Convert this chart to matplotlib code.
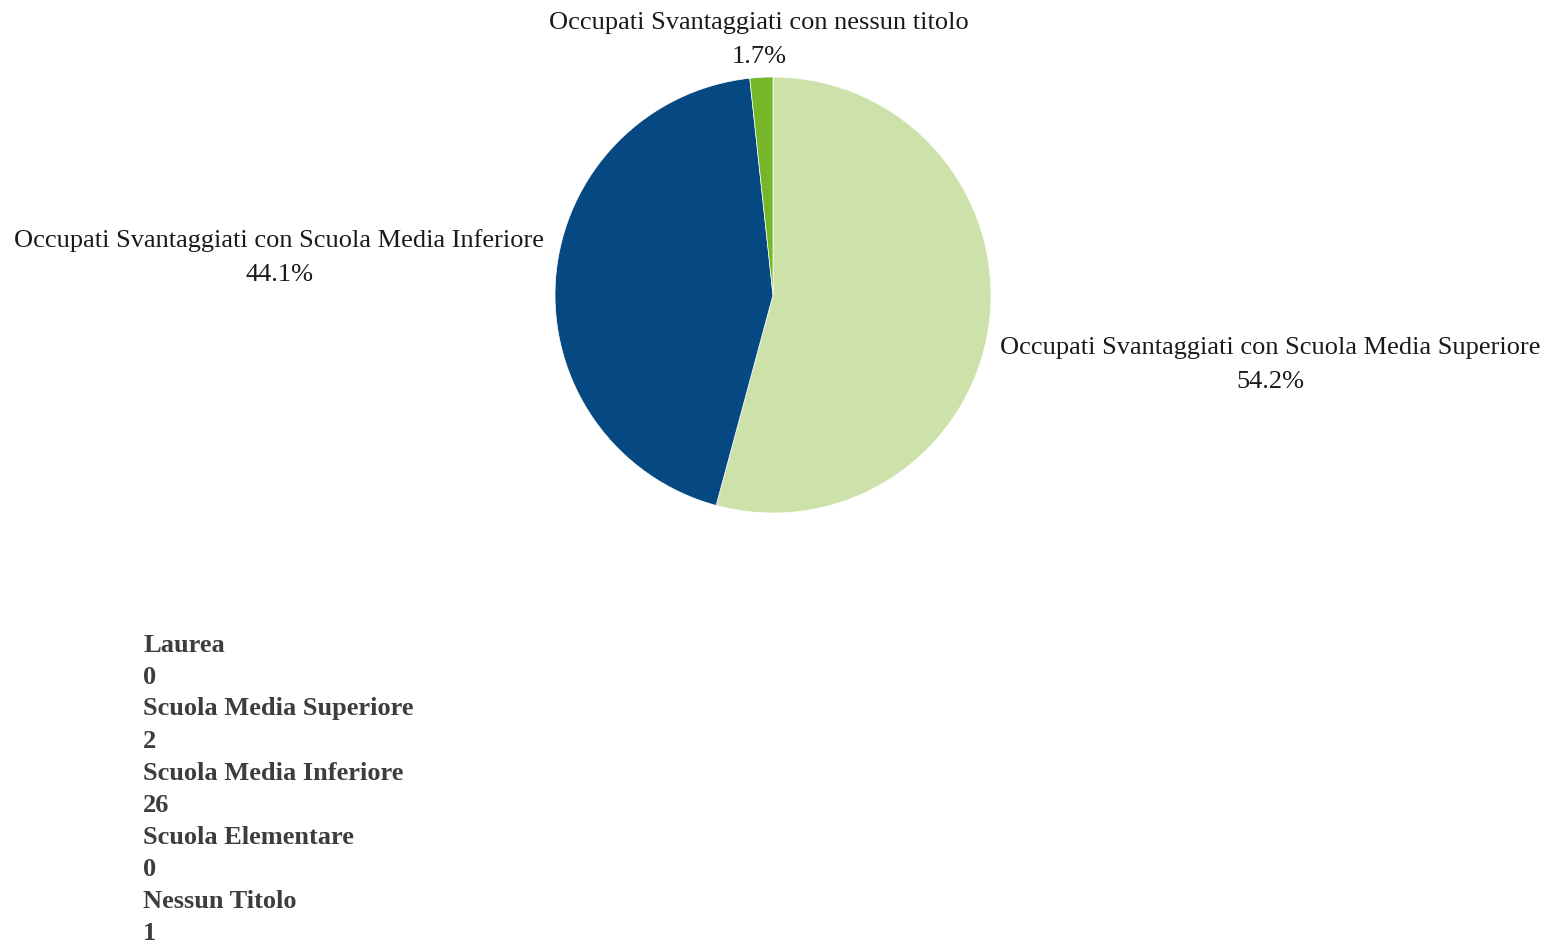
import matplotlib
matplotlib.use("Agg")
import matplotlib.pyplot as plt

# quote percentuali del grafico a torta
slice_labels = [
    "Occupati Svantaggiati con Scuola Media Superiore",
    "Occupati Svantaggiati con Scuola Media Inferiore",
    "Occupati Svantaggiati con nessun titolo",
]
slice_values = [54.2, 44.1, 1.7]
slice_colors = ["#cce2aa", "#054882", "#76b72a"]

# riepilogo in basso (titolo di studio / numero)
summary_titles = ["Laurea", "Scuola Media Superiore", "Scuola Media Inferiore",
                  "Scuola Elementare", "Nessun Titolo"]
summary_counts = [0, 2, 26, 0, 1]

W, H = 1555, 942
fig = plt.figure(figsize=(W / 100, H / 100), dpi=100)

# asse quadrato in pixel: centro (773, 295), raggio 218
cx, cy, r = 773, 295, 218
ax = fig.add_axes([(cx - r) / W, (H - cy - r) / H, 2 * r / W, 2 * r / H])
ax.pie(slice_values, colors=slice_colors, startangle=90, counterclock=False,
       radius=1, wedgeprops=dict(edgecolor="white", linewidth=0.5))
ax.set_xlim(-1, 1)
ax.set_ylim(-1, 1)
ax.axis("off")

serif = ["Liberation Serif", "DejaVu Serif"]
label_pos = [(1.041, -0.321, "left"), (-1.050, 0.174, "right"), (-0.064, 1.170, "center")]
for lab, val, (x, y, ha) in zip(slice_labels, slice_values, label_pos):
    ax.text(x, y, f"{lab}\n{val:.1f}%", ha=ha, va="center", multialignment="center",
            fontsize=19, family=serif, color="#1a1a1a", linespacing=1.7,
            clip_on=False)

# testo di riepilogo
y0, step = 645, 32
lines = []
for t, c in zip(summary_titles, summary_counts):
    lines += [t, str(c)]
for i, s in enumerate(lines):
    fig.text(143 / W, 1 - (y0 + i * step) / H, s, ha="left", va="center",
             fontsize=19, fontweight="bold", family=serif, color="#3d3d3d")

fig.savefig("out.png", dpi=100)
